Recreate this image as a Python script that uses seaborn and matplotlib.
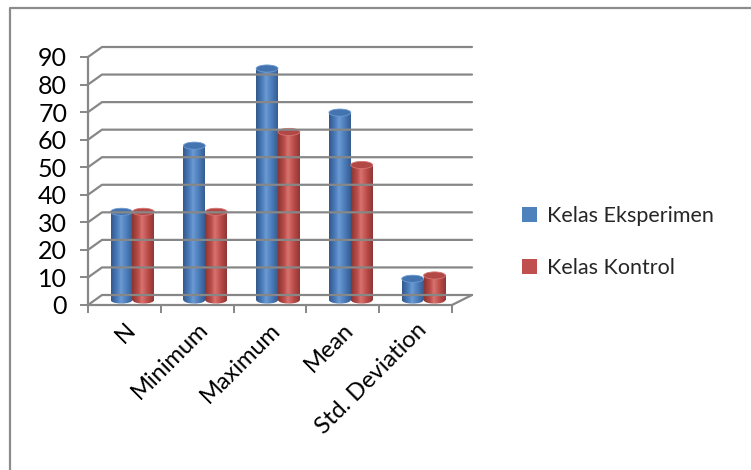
import numpy as np
import pandas as pd
import seaborn as sns
import matplotlib.pyplot as plt
from matplotlib.colors import LinearSegmentedColormap
from matplotlib.patches import Ellipse, Patch
from matplotlib.lines import Line2D
from matplotlib.transforms import offset_copy

# Data
categories = ["N", "Minimum", "Maximum", "Mean", "Std. Deviation"]
eksperimen = [32, 56, 84, 68, 7.7]
kontrol = [32, 32, 61, 49, 8.9]
series_names = ["Kelas Eksperimen", "Kelas Kontrol"]
yticks = list(range(0, 91, 10))

df = pd.DataFrame({
    "kategori": categories * 2,
    "nilai": eksperimen + kontrol,
    "kelas": [series_names[0]] * len(categories) + [series_names[1]] * len(categories),
})

sns.set_theme(style="white")
plt.rcParams["font.family"] = ["Lato", "DejaVu Sans"]

base = {"Kelas Eksperimen": "#4F81BD", "Kelas Kontrol": "#C0504D"}
shades = {
    "Kelas Eksperimen": ["#34598c", "#4d80bf", "#6d9ad2", "#4b7dbb", "#365c90"],
    "Kelas Kontrol": ["#8c3533", "#be4f4c", "#d77471", "#bc4c49", "#8f3735"],
}
tops = {"Kelas Eksperimen": "#4374b0", "Kelas Kontrol": "#b24845"}

fig = plt.figure(figsize=(7.51, 4.70), dpi=100)
ax = fig.add_axes([88 / 751, 1 - 305 / 470, (452 - 88) / 751, (305 - 57) / 470])

sns.barplot(data=df, x="kategori", y="nilai", hue="kelas", palette=base,
            width=0.6, gap=0, ax=ax, legend=False, saturation=1)
ax.set_ylim(0, 90)
ax.set_xlim(-0.5, 4.5)
ax.set_xlabel("")
ax.set_ylabel("")

grid_c = "#878787"
fig.canvas.draw()

# back wall / floor in the 3D look
def back(xd, yd):
    X, Y = ax.transData.transform((xd, yd))
    t = (xd + 0.5) / 5
    return X + 14 + 6 * t, Y + 10

for v in yticks:
    X0, Y0 = ax.transData.transform((-0.5, v))
    bx0, by0 = back(-0.5, v)
    bx1, by1 = back(4.5, v)
    fig.add_artist(Line2D([X0, bx0, bx1], [Y0, by0, by1], transform=None,
                          color=grid_c, lw=1.6, zorder=0.5))
Xr, Yr = ax.transData.transform((4.5, 0))
bxr, byr = back(4.5, 0)
fig.add_artist(Line2D([Xr, bxr], [Yr, byr], transform=None, color=grid_c, lw=1.6))

# cylinder shading on every bar
bar_shift = offset_copy(ax.transData, fig=fig, x=8, y=5, units="dots")
for i, p in enumerate(ax.patches):
    name = series_names[i // len(categories)]
    x, w, h = p.get_x(), p.get_width(), p.get_height()
    cmap = LinearSegmentedColormap.from_list(
        name, list(zip([0, 0.3, 0.45, 0.72, 1], shades[name])))
    p.set_transform(bar_shift)
    p.set_edgecolor("none")
    grad = np.linspace(0, 1, 64).reshape(1, -1)
    im = ax.imshow(grad, cmap=cmap, extent=[x, x + w, 0, h], aspect="auto",
                   transform=bar_shift, zorder=2, interpolation="bilinear")
    im.set_clip_path(p)
    bot = Ellipse((x + w / 2, 0), w, 2.6, transform=bar_shift, zorder=1.9,
                  clip_on=False)
    ax.add_patch(bot)
    imb = ax.imshow(grad, cmap=cmap, extent=[x, x + w, -1.5, 0.5], aspect="auto",
                    transform=bar_shift, zorder=2, interpolation="bilinear")
    imb.set_clip_path(bot)
    imb.set_clip_on(True)
    bot.set_visible(False)
    ax.add_patch(Ellipse((x + w / 2, h), w, 2.6, transform=bar_shift,
                         facecolor=tops[name], edgecolor=shades[name][2],
                         lw=0.6, zorder=3))
ax.set_xlim(-0.5, 4.5)
ax.set_ylim(0, 90)

for s in ["top", "right"]:
    ax.spines[s].set_visible(False)
for s in ["left", "bottom"]:
    ax.spines[s].set_color(grid_c)
    ax.spines[s].set_linewidth(1.6)

ax.set_yticks(yticks)
ax.tick_params(axis="y", direction="out", length=6, color=grid_c, width=1.4,
               left=True, labelsize=18, pad=9, labelcolor="black")
ax.set_xticks(range(len(categories)))
ax.set_xticks(np.arange(-0.5, 5, 1), minor=True)
ax.set_xticklabels(categories, rotation=45, ha="right", va="top",
                   rotation_mode="anchor", fontsize=17)
ax.tick_params(axis="x", which="major", length=0, pad=10, labelcolor="black")
ax.tick_params(axis="x", which="minor", direction="out", length=6,
               color=grid_c, width=1.4, bottom=True)
for lab in ax.get_xticklabels():
    lab.set_transform(lab.get_transform() + offset_copy(ax.transData, fig=fig, x=3, y=0, units="dots") - ax.transData)

handles = [Patch(facecolor=base[n], edgecolor="none") for n in series_names]
fig.legend(handles, series_names, loc="center left",
           bbox_to_anchor=(503 / 751, 1 - 242 / 470), frameon=False,
           fontsize=15.5, handlelength=0.7, handleheight=0.7,
           handletextpad=0.45, labelspacing=1.5)

# outer chart frame (only top and left visible)
fig.add_artist(Line2D([10 / 751, 10 / 751, 1], [0, 1 - 8 / 470, 1 - 8 / 470],
                      transform=fig.transFigure, color="#8c8c8c", lw=1.6))

plt.savefig("out.png", dpi=100)
